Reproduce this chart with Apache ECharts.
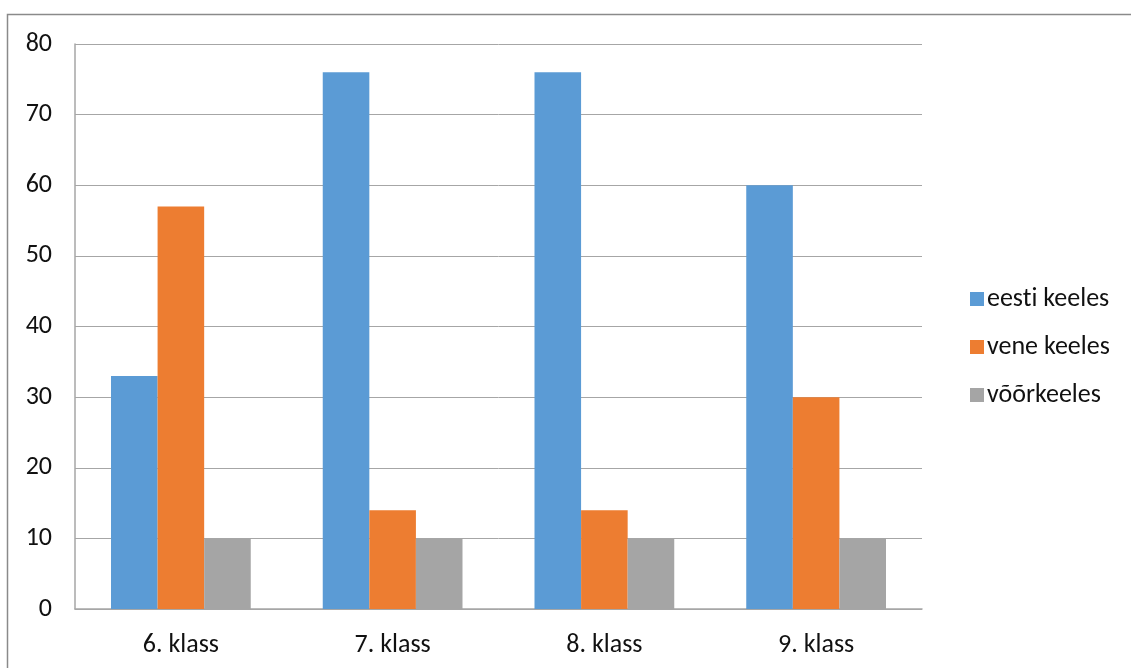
<!DOCTYPE html>
<html>
<head>
<meta charset="utf-8">
<script src="https://cdn.jsdelivr.net/npm/echarts@6/dist/echarts.min.js"></script>
<style>
  html, body { margin: 0; padding: 0; background: #fff; }
  #chart { width: 1131px; height: 668px; }
</style>
</head>
<body>
<div id="chart"></div>
<script>
// Class levels on the category axis
const categories = ['6. klass', '7. klass', '8. klass', '9. klass'];

// Values per language of instruction
const eestiKeeles = [33, 76, 76, 60];
const veneKeeles = [57, 14, 14, 30];
const voorkeeles = [10, 10, 10, 10];

const seriesNames = ['eesti keeles', 'vene keeles', 'võõrkeeles'];
const yTicks = { min: 0, max: 80, interval: 10 };

const font = "Calibri, Carlito, 'Open Sans', 'Liberation Sans', sans-serif";
const colors = ['#5B9BD5', '#ED7D31', '#A5A5A5'];
const fontSize = 26;

const chart = echarts.init(document.getElementById('chart'), null, { renderer: 'canvas' });

chart.setOption({
  animation: false,
  color: colors,
  textStyle: { fontFamily: font },
  graphic: [{
    type: 'polyline',
    shape: { points: [[7.5, 668], [7.5, 14.5], [1131, 14.5]] },
    style: { stroke: '#8a8a8a', lineWidth: 1.5, fill: null }
  }],
  grid: { left: 75, top: 44, right: 209, bottom: 59, containLabel: false },
  legend: {
    orient: 'vertical',
    left: 965,
    top: 281,
    itemWidth: 14,
    itemHeight: 14,
    itemGap: 22,
    icon: 'rect',
    // keep "t" and "i" as separate glyphs
    formatter: name => name.replace('ti', 't\u200Ci'),
    textStyle: { fontFamily: font, fontSize: fontSize, color: '#111', padding: [0, 0, 0, -2] },
    data: seriesNames
  },
  xAxis: {
    type: 'category',
    data: categories,
    axisLine: { lineStyle: { color: '#a6a6a6', width: 1.5 } },
    axisTick: { show: false },
    axisLabel: { fontFamily: font, fontSize: fontSize, color: '#111', margin: 23 }
  },
  yAxis: {
    type: 'value',
    min: yTicks.min,
    max: yTicks.max,
    interval: yTicks.interval,
    axisLine: { show: true, lineStyle: { color: '#a6a6a6', width: 1.5 } },
    axisTick: { show: false },
    splitLine: { lineStyle: { color: '#a6a6a6', width: 1 } },
    axisLabel: { fontFamily: font, fontSize: fontSize, color: '#111', margin: 23 }
  },
  series: [
    { name: seriesNames[0], type: 'bar', data: eestiKeeles, barGap: '0%', barCategoryGap: '34%' },
    { name: seriesNames[1], type: 'bar', data: veneKeeles, barGap: '0%', barCategoryGap: '34%' },
    { name: seriesNames[2], type: 'bar', data: voorkeeles, barGap: '0%', barCategoryGap: '34%' }
  ]
});
</script>
</body>
</html>
